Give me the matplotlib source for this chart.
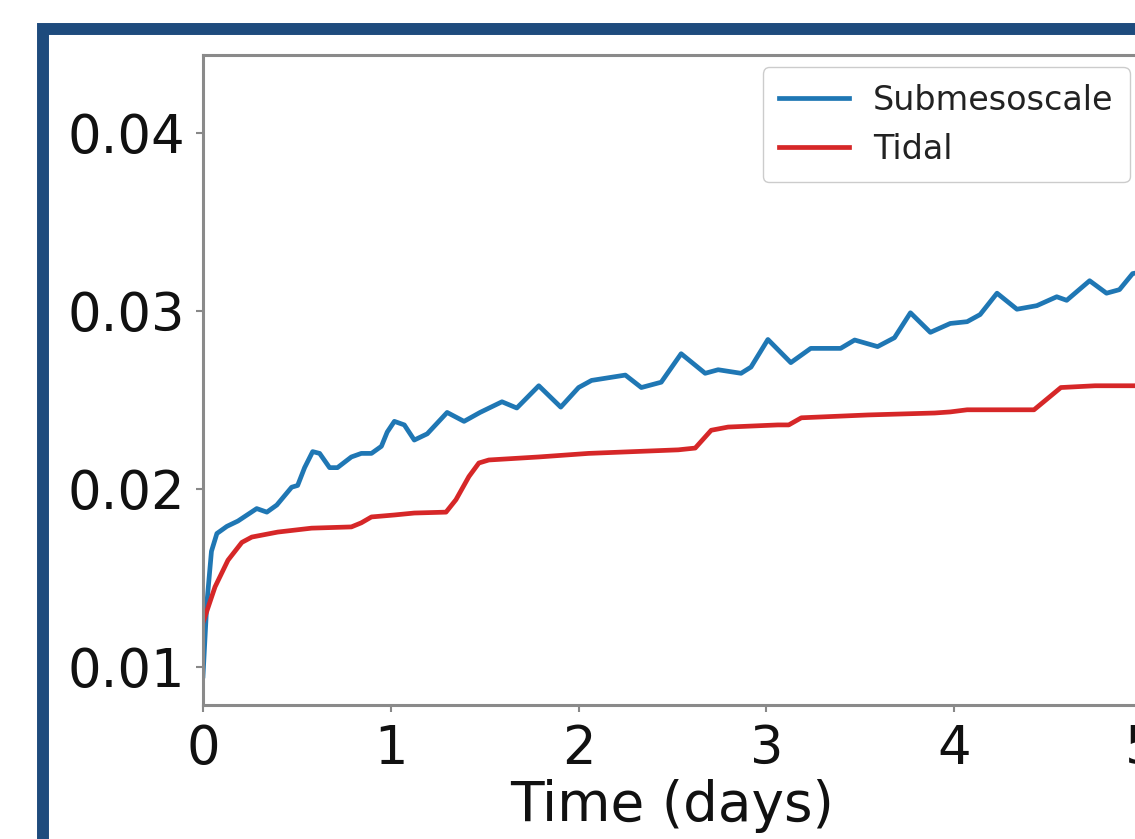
import matplotlib
matplotlib.use("Agg")
import matplotlib.pyplot as plt
from matplotlib.patches import Rectangle

# Submesoscale series (time in days, value)
sub_t = [0.000, 0.020, 0.045, 0.074, 0.127, 0.186, 0.286, 0.340, 0.393, 0.472,
         0.504, 0.541, 0.584, 0.621, 0.674, 0.716, 0.790, 0.843, 0.897, 0.950,
         0.981, 1.019, 1.072, 1.125, 1.194, 1.300, 1.390, 1.475, 1.592, 1.671,
         1.788, 1.905, 2.000, 2.069, 2.249, 2.334, 2.440, 2.546, 2.674, 2.743,
         2.865, 2.918, 3.008, 3.130, 3.236, 3.395, 3.470, 3.592, 3.682, 3.767,
         3.873, 3.979, 4.069, 4.138, 4.228, 4.334, 4.440, 4.546, 4.599, 4.721,
         4.811, 4.880, 4.950, 5.000]
sub_v = [0.0095, 0.0135, 0.0165, 0.0175, 0.0179, 0.0182, 0.0189, 0.0187, 0.0191, 0.0201,
         0.0202, 0.0212, 0.0221, 0.0220, 0.0212, 0.0212, 0.0218, 0.0220, 0.0220, 0.0224,
         0.0232, 0.0238, 0.0236, 0.02275, 0.0231, 0.0243, 0.0238, 0.0243, 0.0249, 0.02455,
         0.0258, 0.0246, 0.0257, 0.0261, 0.0264, 0.0257, 0.0260, 0.0276, 0.0265, 0.0267,
         0.0265, 0.02685, 0.0284, 0.0271, 0.0279, 0.0279, 0.02837, 0.0280, 0.0285, 0.0299,
         0.0288, 0.0293, 0.0294, 0.0298, 0.0310, 0.0301, 0.0303, 0.0308, 0.0306, 0.0317,
         0.0310, 0.0312, 0.0321, 0.0322]

# Tidal series
tid_t = [0.000, 0.064, 0.133, 0.207, 0.260, 0.398, 0.578, 0.790, 0.843, 0.897,
         1.019, 1.125, 1.294, 1.347, 1.416, 1.469, 1.522, 1.788, 2.053, 2.531,
         2.621, 2.706, 2.796, 3.061, 3.119, 3.186, 3.541, 3.897, 3.979, 4.069,
         4.425, 4.488, 4.568, 4.750, 5.000]
tid_v = [0.0125, 0.0145, 0.0160, 0.0170, 0.0173, 0.01758, 0.0178, 0.01787, 0.0181, 0.01843,
         0.01854, 0.01865, 0.0187, 0.0194, 0.0207, 0.02146, 0.02163, 0.0218, 0.0220, 0.0222,
         0.0223, 0.0233, 0.02348, 0.0236, 0.0236, 0.0240, 0.02416, 0.02427, 0.02433, 0.02445,
         0.02445, 0.0250, 0.0257, 0.0258, 0.0258]

series_labels = ["Submesoscale", "Tidal"]
x_ticks = [0, 1, 2, 3, 4, 5]
y_ticks = [0.01, 0.02, 0.03, 0.04]
y_tick_labels = ["0.01", "0.02", "0.03", "0.04"]

W, H = 1135, 839
fig = plt.figure(figsize=(W / 100, H / 100), dpi=100)
fig.patch.set_facecolor("white")

# outer dark-blue frame (extends beyond the crop)
fig.add_artist(Rectangle((43 / W, -0.3), 1.5, 0.3 + (1 - 29 / H),
                         transform=fig.transFigure, fill=False,
                         edgecolor="#1e4b7d", linewidth=8.6, zorder=0))

ax = fig.add_axes([203 / W, (H - 705) / H, (1142 - 203) / W, (705 - 55) / H])
ax.plot(sub_t, sub_v, color="#1f77b4", lw=3.4, label=series_labels[0])
ax.plot(tid_t, tid_v, color="#d62728", lw=3.4, label=series_labels[1])

ax.set_xlim(0, 5)
ax.set_ylim(0.007865, 0.044382)
ax.set_xticks(x_ticks)
ax.set_yticks(y_ticks)
ax.set_yticklabels(y_tick_labels)
ax.tick_params(axis="both", labelsize=38, length=5, width=1.5, color="#888888",
               pad=8, labelcolor="#111111")
for s in ax.spines.values():
    s.set_color("#8a8a8a")
    s.set_linewidth(2.2)
ax.set_xlabel("Time (days)", fontsize=39.5, labelpad=3, color="#111111")

leg = ax.legend(loc="upper right", fontsize=24, borderaxespad=0.36,
                handlelength=2.1, handletextpad=0.7, labelspacing=0.48,
                borderpad=0.5, fancybox=True, framealpha=1)
leg.get_frame().set_edgecolor("#cccccc")
for txt in leg.get_texts():
    txt.set_color("#222222")

fig.savefig("out.png", dpi=100)
